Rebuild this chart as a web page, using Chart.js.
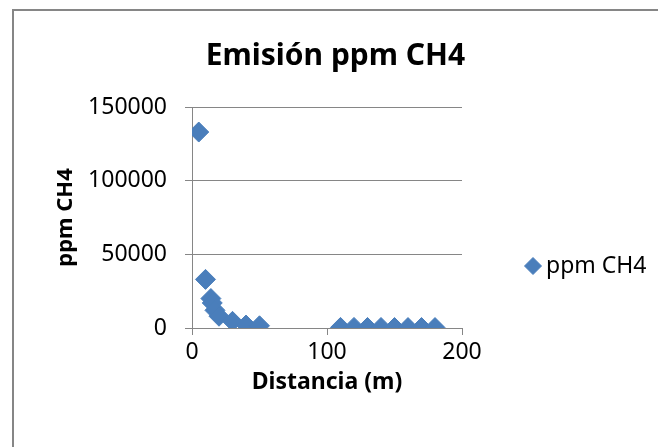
<!DOCTYPE html>
<html>
<head>
<meta charset="utf-8">
<script src="https://cdn.jsdelivr.net/npm/chart.js@4"></script>
<style>
  html, body { margin: 0; padding: 0; background: #fff; }
  #wrap { width: 658px; height: 447px; position: relative; }
</style>
</head>
<body>
<div id="wrap"><canvas id="chart"></canvas></div>
<script>
// distance (m) and ppm CH4
const distancia = [5, 10, 14, 15, 17, 20, 30, 40, 50, 110, 120, 130, 140, 150, 160, 170, 180];
const ppmCH4 = [133000, 33000, 20000, 17000, 12000, 8000, 4500, 2000, 1500, 400, 400, 350, 350, 300, 300, 300, 300];
const yTicks = [0, 50000, 100000, 150000];
const xTicks = [0, 100, 200];

const blue = '#4a7ebb';
const grey = '#868686';
const font = 'Noto Sans';

// frame (cut off at right/bottom) + legend like the spreadsheet one
const frameLegend = {
  id: 'frameLegend',
  afterDraw(chart) {
    const c = chart.ctx;
    const ds = chart.data.datasets[0];
    c.save();
    c.strokeStyle = grey;
    c.lineWidth = 2;
    c.strokeRect(13, 10, chart.width + 20, chart.height + 20);
    c.fillStyle = ds.backgroundColor;
    c.strokeStyle = ds.borderColor;
    c.lineWidth = 1;
    c.beginPath();
    c.moveTo(533, 257.5); c.lineTo(541.5, 266); c.lineTo(533, 274.5); c.lineTo(524.5, 266);
    c.closePath(); c.fill(); c.stroke();
    c.fillStyle = '#000';
    c.font = '23px "' + font + '"';
    c.textBaseline = 'middle';
    c.fillText(ds.label, 546, 266);
    c.restore();
  }
};

new Chart(document.getElementById('chart'), {
  type: 'scatter',
  data: {
    datasets: [{
      label: 'ppm CH4',
      data: distancia.map((x, i) => ({ x: x, y: ppmCH4[i] })),
      pointStyle: 'rectRot',
      pointRadius: 10,
      pointHoverRadius: 10,
      backgroundColor: blue,
      borderColor: blue,
      borderWidth: 1
    }]
  },
  options: {
    responsive: true,
    maintainAspectRatio: false,
    animation: false,
    layout: { padding: { left: 13, right: 0, top: 0, bottom: 47 } },
    plugins: {
      legend: { display: false },
      tooltip: { enabled: false },
      title: {
        display: true,
        text: 'Emisión ppm CH4',
        color: '#000',
        font: { family: font, size: 30, weight: 'bold' },
        padding: { top: 38, bottom: 33 }
      }
    },
    scales: {
      x: {
        type: 'linear',
        min: 0, max: 200,
        afterBuildTicks: s => { s.ticks = xTicks.map(v => ({ value: v })); },
        afterFit: s => { s.height = 72; },
        grid: { drawOnChartArea: false, drawTicks: true, tickLength: 7, color: grey },
        border: { color: grey, width: 1 },
        ticks: { color: '#000', padding: 4, font: { family: font, size: 23 }, callback: v => String(v) },
        title: {
          display: true, text: 'Distancia (m)', color: '#000',
          font: { family: font, size: 23, weight: 'bold' }, padding: { top: 4, bottom: 4 }
        }
      },
      y: {
        min: 0, max: 150000,
        afterBuildTicks: s => { s.ticks = yTicks.map(v => ({ value: v })); },
        afterFit: s => { s.width = 179; },
        grid: { color: grey, tickLength: 7 },
        border: { color: grey, width: 1 },
        ticks: { color: '#000', padding: 18, font: { family: font, size: 23 }, callback: v => String(v) },
        title: {
          display: true, text: 'ppm CH4', color: '#000',
          font: { family: font, size: 22, weight: 'bold' }, padding: { top: 40, bottom: 4 }
        }
      },
      // empty right-hand axis that only holds the room for the legend
      legendRoom: {
        position: 'right',
        display: true,
        grid: { display: false },
        border: { display: false },
        ticks: { display: false },
        afterFit: s => { s.width = 196; }
      }
    }
  },
  plugins: [frameLegend]
});
</script>
</body>
</html>
